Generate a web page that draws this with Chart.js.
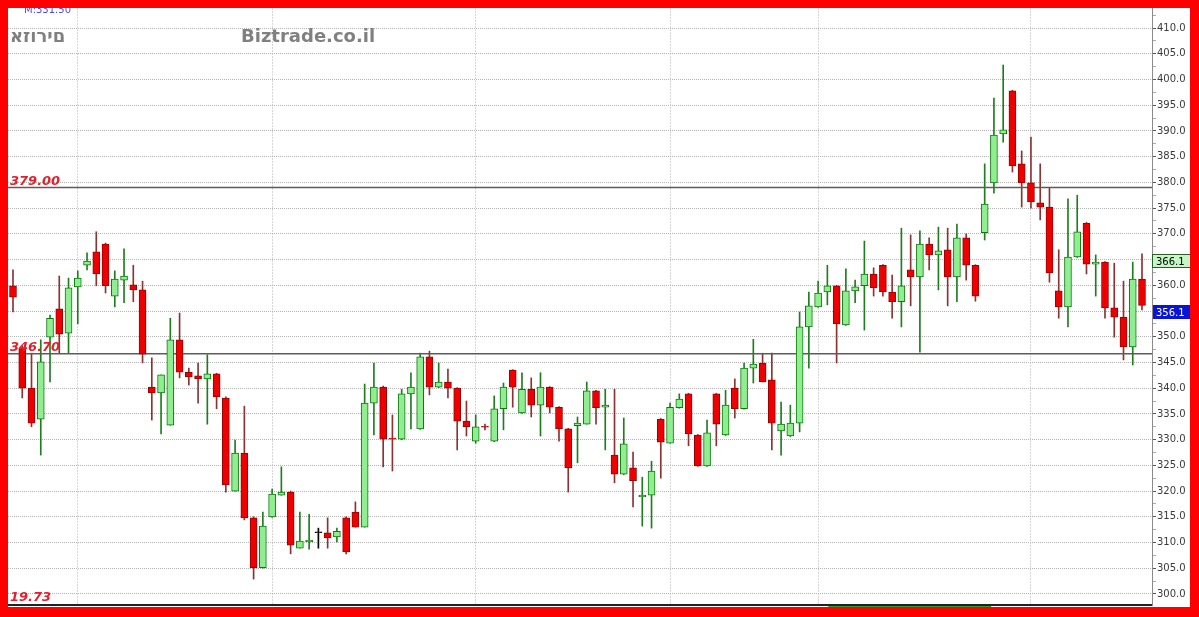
<!DOCTYPE html>
<html>
<head>
<meta charset="utf-8">
<script src="https://cdn.jsdelivr.net/npm/chart.js@4.4.1/dist/chart.umd.min.js"></script>
<style>
  html, body { margin: 0; padding: 0; background: #fff; }
  #wrap { position: relative; width: 1199px; height: 617px; }
  #frame {
    position: absolute; left: 0; top: 0; width: 1199px; height: 617px;
    box-sizing: border-box; border-style: solid; border-color: #ff0000;
    border-width: 8px 9px 10px 8px; pointer-events: none;
  }
</style>
</head>
<body>
<div id="wrap"><canvas id="chart"></canvas><div id="frame"></div></div>
<script>
const opens = [359.9, 347.8, 340.0, 334.0, 349.9, 355.4, 350.7, 359.7, 363.9, 366.5,
  368.0, 357.9, 361.0, 360.1, 359.1, 340.2, 339.1, 332.8, 349.4, 343.1,
  342.4, 341.8, 342.8, 338.1, 320.0, 327.4, 314.8, 305.1, 315.0, 319.2,
  319.8, 308.9, 310.1, 311.9, 311.9, 311.1, 314.8, 315.9, 313.0, 337.1,
  340.2, 330.3, 330.1, 338.9, 332.1, 346.1, 340.2, 341.2, 340.0, 333.6,
  329.7, 332.6, 329.7, 336.0, 343.5, 335.2, 339.8, 336.7, 340.2, 336.3,
  332.1, 332.7, 333.0, 339.5, 336.3, 327.0, 323.3, 324.5, 318.9, 319.2,
  334.0, 329.3, 336.2, 338.9, 330.9, 324.9, 338.9, 330.9, 340.0, 336.0,
  343.9, 344.9, 341.6, 331.7, 330.7, 333.2, 351.9, 355.8, 358.7, 359.9,
  352.3, 358.9, 359.9, 362.2, 363.9, 358.7, 356.8, 363.0, 361.6, 368.0,
  365.9, 366.9, 361.6, 369.2, 363.9, 370.2, 379.9, 389.4, 397.8, 383.6,
  379.9, 376.0, 375.2, 358.9, 355.8, 365.5, 372.1, 364.1, 364.5, 355.6,
  353.8, 348.0, 361.2];
const highs = [363.0, 348.2, 346.8, 349.4, 354.2, 361.8, 361.4, 362.8, 366.3, 370.4,
  368.2, 362.8, 367.1, 363.9, 360.8, 345.9, 342.6, 353.6, 354.6, 343.9,
  344.9, 346.5, 342.9, 338.3, 329.9, 336.5, 315.0, 315.9, 320.4, 324.7,
  320.0, 315.9, 315.5, 312.8, 314.8, 312.8, 315.0, 317.9, 340.8, 344.9,
  340.4, 334.8, 339.8, 343.0, 346.8, 347.2, 344.9, 343.7, 340.1, 337.5,
  334.8, 333.0, 338.5, 341.0, 343.6, 343.0, 342.0, 343.0, 340.3, 336.4,
  332.2, 334.4, 341.2, 339.6, 339.8, 339.8, 334.2, 327.6, 322.7, 325.8,
  334.1, 337.1, 338.9, 339.0, 331.0, 333.8, 339.0, 339.6, 341.8, 344.9,
  349.5, 346.8, 346.8, 337.3, 336.7, 354.8, 358.7, 360.8, 363.9, 360.0,
  363.2, 361.0, 368.6, 363.4, 364.0, 362.0, 371.1, 369.8, 370.6, 369.2,
  371.3, 371.1, 371.9, 370.0, 364.0, 383.6, 396.4, 402.8, 397.9, 386.1,
  388.8, 383.6, 378.9, 366.9, 376.8, 377.5, 372.2, 365.9, 364.6, 364.3,
  360.8, 364.5, 366.1];
const lows = [354.8, 338.1, 332.5, 327.0, 341.2, 346.8, 346.8, 352.5, 363.0, 359.9,
  358.5, 355.8, 356.6, 356.8, 344.9, 333.8, 331.1, 332.8, 342.0, 340.6,
  337.1, 333.0, 336.0, 319.8, 320.0, 314.4, 302.9, 305.0, 314.9, 319.2,
  307.8, 308.9, 308.7, 308.9, 308.9, 310.1, 307.8, 313.0, 313.0, 330.9,
  324.7, 323.9, 330.0, 332.1, 332.0, 338.7, 340.1, 338.1, 328.0, 330.7,
  329.3, 331.9, 329.6, 331.9, 336.3, 335.1, 334.4, 330.7, 335.2, 329.7,
  319.8, 325.5, 333.0, 333.0, 328.0, 321.6, 323.2, 316.9, 313.2, 312.8,
  322.5, 329.3, 336.1, 328.8, 324.8, 324.8, 328.8, 330.8, 334.2, 335.9,
  341.0, 341.2, 328.0, 327.0, 330.6, 331.5, 343.9, 355.7, 356.2, 344.9,
  352.2, 356.6, 351.3, 357.9, 357.9, 353.6, 351.9, 356.0, 347.0, 363.0,
  359.1, 356.0, 356.8, 361.0, 356.9, 368.8, 377.9, 387.8, 382.0, 375.2,
  375.0, 372.7, 360.6, 353.6, 351.9, 365.4, 362.2, 357.9, 353.6, 349.9,
  345.5, 344.5, 355.2];
const closes = [357.7, 340.0, 333.2, 345.1, 353.6, 350.5, 359.5, 361.4, 364.7, 362.2,
  359.9, 361.2, 361.8, 359.1, 346.6, 339.1, 342.6, 349.4, 343.1, 342.2,
  341.8, 342.8, 338.3, 321.2, 327.4, 314.8, 305.1, 313.2, 319.4, 319.8,
  309.5, 310.3, 310.5, 311.9, 310.9, 312.2, 308.2, 313.0, 337.1, 340.2,
  330.1, 330.1, 338.9, 340.2, 346.1, 340.2, 341.2, 340.0, 333.6, 332.5,
  332.5, 332.4, 336.0, 340.2, 340.2, 339.8, 336.7, 340.2, 336.3, 332.1,
  324.5, 333.2, 339.5, 336.2, 336.7, 323.3, 329.2, 322.0, 319.2, 323.9,
  329.5, 336.3, 337.9, 331.1, 324.9, 331.3, 333.0, 336.7, 336.0, 343.9,
  344.7, 341.2, 333.2, 333.0, 333.2, 351.9, 356.0, 358.5, 359.9, 352.5,
  358.9, 359.7, 362.2, 359.5, 358.7, 356.8, 359.9, 361.6, 368.0, 365.9,
  366.7, 361.6, 369.2, 363.9, 357.9, 375.8, 389.2, 390.2, 383.2, 379.9,
  376.2, 375.2, 362.4, 355.8, 365.5, 370.4, 364.1, 364.5, 355.6, 353.8,
  348.0, 361.2, 356.1];

const monthIdx = [7, 28, 50, 71, 87, 110];
const levels = [379.0, 346.7];
const lowLabel = "19.73";
const topLabel = "M:331.50";
const lastHigh = 366.1;
const lastClose = 356.1;
const rangeIdx = [88.1, 105.7];

const xMin = -0.54, xMax = 123.08;
const yMin = 297.86, yMax = 413.89;

const idx = opens.map((_, i) => i);
const dir = (i) => closes[i] > opens[i] ? 1 : (closes[i] < opens[i] ? -1 : 0);
const bodyFill = (i) => ({ "1": "#90ee90", "-1": "#ee0000", "0": "#000" })[dir(i)];
const bodyEdge = (i) => ({ "1": "#0b7a0b", "-1": "#9a0000", "0": "#000" })[dir(i)];
const wickCol = (i) => ({ "1": "#1f7d1f", "-1": "#8b3333", "0": "#000" })[dir(i)];

// the source image writes the hebrew word glyph by glyph, left to right
const drawPlain = (ctx, text, x, y) => {
  for (const ch of text) {
    ctx.fillText(ch, x, y);
    x += ctx.measureText(ch).width;
  }
};

const overlay = {
  id: "overlay",
  afterDatasetsDraw(chart) {
    const ctx = chart.ctx, y = chart.scales.y, x = chart.scales.x, a = chart.chartArea;
    ctx.save();
    ctx.textBaseline = "alphabetic";
    ctx.textAlign = "left";
    ctx.font = "italic bold 13px 'DejaVu Sans'";
    ctx.fillStyle = "#e3202c";
    levels.forEach(v => ctx.fillText(v.toFixed(2), 10, y.getPixelForValue(v) - 3));
    ctx.fillText(lowLabel, 10, 601);

    ctx.font = "10px 'DejaVu Sans'";
    ctx.fillStyle = "#4a4ae8";
    ctx.fillText(topLabel, 24, 13);

    ctx.font = "bold 18px 'DejaVu Sans'";
    ctx.fillStyle = "#808080";
    drawPlain(ctx, "אזורים", 10, 42);
    ctx.fillText("Biztrade.co.il", 241, 42);

    ctx.font = "10px 'DejaVu Sans'";
    let t = Math.round(y.getPixelForValue(lastHigh));
    ctx.fillStyle = "#c4f7c4";
    ctx.fillRect(a.right + 1, t, 37, 14);
    ctx.strokeStyle = "#2c5e2c";
    ctx.lineWidth = 1;
    ctx.strokeRect(a.right + 0.5, t + 0.5, 38, 13);
    ctx.fillStyle = "#000";
    ctx.fillText(lastHigh.toFixed(1), a.right + 4, t + 11);

    t = Math.round(y.getPixelForValue(lastClose));
    ctx.fillStyle = "#0a14d8";
    ctx.fillRect(a.right + 1, t, 37, 14);
    ctx.fillStyle = "#fff";
    ctx.fillText(lastClose.toFixed(1), a.right + 4, t + 11);

    ctx.fillStyle = "#2f9a2f";
    const x0 = x.getPixelForValue(rangeIdx[0]), x1 = x.getPixelForValue(rangeIdx[1]);
    ctx.fillRect(x0, a.bottom + 1, x1 - x0, 4);
    ctx.restore();
  }
};

new Chart(document.getElementById("chart"), {
  data: {
    datasets: [
      {
        type: "bar",
        data: idx.map(i => ({ x: i, y: [opens[i], closes[i]] })),
        backgroundColor: (c) => bodyFill(c.dataIndex),
        borderColor: (c) => bodyEdge(c.dataIndex),
        borderWidth: 1,
        borderSkipped: false,
        barThickness: 7,
        minBarLength: 1,
        grouped: false,
        order: 0
      },
      {
        type: "bar",
        data: idx.map(i => ({ x: i, y: [lows[i], highs[i]] })),
        backgroundColor: (c) => wickCol(c.dataIndex),
        borderWidth: 0,
        barThickness: 1,
        grouped: false,
        order: 2
      },
      ...levels.map(v => ({
        type: "line",
        data: [{ x: xMin, y: v }, { x: xMax, y: v }],
        borderColor: "#5c5c5c",
        borderWidth: 1.5,
        pointRadius: 0,
        order: 1
      }))
    ]
  },
  options: {
    responsive: true,
    maintainAspectRatio: false,
    animation: false,
    events: [],
    layout: { padding: { left: 8, right: 9, top: 8, bottom: 12 } },
    plugins: { legend: { display: false }, tooltip: { enabled: false } },
    scales: {
      x: {
        type: "linear",
        min: xMin,
        max: xMax,
        offset: false,
        afterBuildTicks: (s) => { s.ticks = monthIdx.map(v => ({ value: v })); },
        afterFit: (s) => { s.height = 0; },
        ticks: { display: false },
        grid: { color: "#d6d6d6", drawTicks: false, offset: false },
        border: { display: true, color: "#222", width: 2, dash: [2, 1] }
      },
      y: {
        type: "linear",
        position: "right",
        min: yMin,
        max: yMax,
        afterBuildTicks: (s) => {
          const t = [];
          for (let v = 300; v <= 412.5; v += 2.5) t.push({ value: v });
          s.ticks = t;
        },
        afterFit: (s) => { s.width = 38; },
        ticks: {
          autoSkip: false,
          padding: 1,
          color: "#3a3a3a",
          font: { family: "'DejaVu Sans'", size: 10 },
          callback: (v) => (v % 5 === 0 ? v.toFixed(1) : "")
        },
        grid: {
          color: (c) => (c.tick && c.tick.value % 5 === 0 ? "#b4b4b4" : "rgba(0,0,0,0)"),
          tickColor: (c) => (c.tick && c.tick.value % 5 === 0 ? "#555" : "#aaa"),
          tickLength: 4
        },
        border: { display: true, color: "#8a8a8a", width: 1, dash: [1, 1] }
      }
    }
  },
  plugins: [overlay]
});
</script>
</body>
</html>
